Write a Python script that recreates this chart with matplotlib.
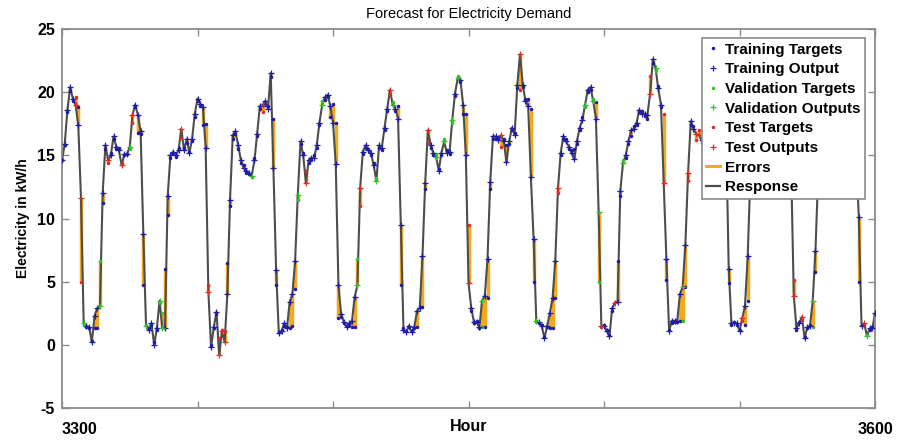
import numpy as np
import matplotlib
matplotlib.use('Agg')
import matplotlib.pyplot as plt
from matplotlib.lines import Line2D

plt.rcParams['font.family'] = ['Liberation Sans', 'DejaVu Sans']
plt.rcParams['axes.unicode_minus'] = False

# hourly samples 3300..3600
hours = np.arange(3300, 3601)

# network outputs (response), one row per day of 24 hours
outputs = [
    14.6, 15.9, 18.6, 20.4, 19.5, 19.0, 17.4, 11.6, 1.7, 1.5, 1.4, 0.2, 2.3, 2.9, 3.1, 12.0, 15.8, 14.6, 15.0, 16.5, 15.7, 15.4, 14.2, 15.1,
    15.1, 15.7, 18.2, 19.0, 18.2, 16.9, 8.8, 1.5, 1.2, 1.7, 0.0, 1.3, 3.5, 1.3, 1.3, 11.8, 15.0, 15.3, 15.0, 15.4, 17.1, 15.4, 16.3, 15.2,
    16.3, 18.3, 19.5, 19.1, 18.8, 15.6, 4.2, -0.2, 1.4, 2.6, -0.8, 1.1, 0.2, 4.0, 11.5, 16.6, 16.9, 15.8, 14.6, 14.0, 13.8, 13.6, 13.4, 14.6,
    16.7, 18.9, 19.0, 19.3, 18.7, 21.5, 14.0, 5.9, 0.9, 1.1, 1.7, 1.3, 3.4, 4.0, 6.6, 11.9, 16.1, 15.0, 12.8, 14.6, 14.8, 14.8, 15.8, 17.6,
    19.0, 19.6, 19.8, 18.9, 17.6, 14.3, 4.7, 2.4, 1.8, 1.4, 1.7, 1.9, 3.8, 4.7, 12.4, 15.3, 15.8, 15.4, 15.2, 14.2, 13.0, 15.8, 15.6, 17.2,
    18.7, 20.2, 19.0, 18.7, 17.9, 9.5, 1.2, 1.0, 1.5, 1.0, 1.4, 2.7, 2.9, 7.0, 12.8, 17.0, 15.8, 15.2, 14.9, 13.8, 15.2, 16.1, 15.2, 15.3,
    17.8, 19.9, 21.1, 21.0, 19.0, 15.0, 4.9, 2.9, 1.8, 1.8, 1.4, 3.5, 3.9, 6.8, 12.9, 16.5, 16.5, 16.2, 16.6, 16.1, 14.5, 16.1, 17.2, 16.6,
    20.6, 23.0, 20.6, 19.3, 18.9, 13.3, 8.4, 1.9, 1.8, 1.5, 0.5, 1.5, 2.5, 3.7, 6.6, 12.4, 15.2, 16.5, 16.1, 15.7, 15.2, 14.7, 16.1, 17.2,
    17.8, 19.0, 20.2, 20.4, 19.3, 17.9, 10.5, 1.5, 1.5, 1.1, 0.7, 2.9, 3.3, 3.4, 12.2, 14.4, 15.0, 16.1, 17.0, 17.1, 17.6, 18.6, 18.3, 18.3,
    18.2, 19.9, 22.6, 21.9, 20.3, 19.0, 12.8, 6.8, 1.1, 1.9, 1.9, 1.9, 4.0, 4.6, 7.9, 13.6, 17.7, 17.1, 16.7, 16.6, 16.2, 15.6, 15.1, 15.8,
    16.9, 18.2, 19.3, 20.0, 19.1, 17.2, 6.0, 1.7, 1.7, 1.7, 1.1, 2.1, 3.1, 7.0, 13.5, 16.0, 15.4, 15.0, 15.7, 16.3, 15.5, 15.2, 16.1, 17.4,
    18.6, 19.5, 20.2, 19.0, 17.2, 14.5, 3.9, 1.3, 1.7, 2.2, 0.5, 1.4, 1.5, 3.5, 7.4, 13.5, 15.5, 16.2, 15.8, 15.3, 15.9, 16.4, 15.6, 16.8,
    18.0, 19.1, 19.8, 19.0, 17.5, 15.0, 10.1, 1.5, 1.7, 0.7, 1.3, 1.3, 2.5,
]

# measured targets
targets = [
    14.6, 15.8, 18.4, 20.1, 19.3, 19.6, 18.8, 5.0, 1.6, 1.4, 1.3, 0.3, 1.3, 1.3, 6.6, 11.2, 15.5, 14.4, 15.2, 16.3, 15.5, 15.6, 14.4, 15.0,
    15.1, 15.5, 17.6, 18.8, 16.8, 16.7, 4.7, 1.6, 1.3, 1.6, 0.2, 1.2, 3.3, 2.5, 6.0, 10.3, 14.8, 15.1, 14.9, 15.6, 16.4, 15.6, 16.0, 15.3,
    16.1, 18.0, 19.3, 18.9, 17.4, 17.5, 4.7, 0.0, 1.3, 2.4, 0.5, 1.2, 1.1, 6.5, 11.0, 16.3, 16.7, 15.5, 14.4, 14.2, 13.6, 13.5, 13.3, 14.8,
    16.5, 18.7, 18.4, 19.0, 18.9, 21.2, 17.9, 4.7, 1.0, 1.2, 1.5, 1.4, 1.3, 1.5, 4.4, 11.5, 15.9, 15.2, 13.8, 14.4, 14.6, 15.0, 15.6, 17.4,
    19.3, 19.4, 19.6, 18.0, 19.1, 17.6, 2.1, 2.2, 1.7, 1.5, 1.6, 1.4, 1.4, 6.8, 11.0, 15.1, 15.6, 15.5, 15.0, 14.4, 13.2, 15.6, 15.4, 17.0,
    18.5, 19.8, 19.2, 18.5, 18.9, 4.7, 1.3, 1.1, 1.4, 1.1, 1.3, 1.4, 3.0, 3.0, 12.3, 16.0, 15.6, 15.0, 15.1, 13.9, 15.0, 16.3, 15.4, 15.1,
    17.6, 19.7, 21.3, 20.8, 18.3, 18.3, 9.5, 2.7, 1.7, 1.9, 1.3, 1.4, 1.4, 3.7, 12.3, 16.3, 16.3, 16.4, 15.7, 16.3, 15.8, 15.9, 17.0, 16.8,
    20.3, 20.2, 20.4, 19.5, 19.5, 18.7, 5.0, 1.8, 1.7, 1.6, 0.6, 1.4, 1.3, 1.3, 3.7, 12.0, 15.0, 16.3, 16.3, 15.5, 15.4, 15.5, 15.9, 17.0,
    18.0, 18.8, 20.0, 20.2, 19.5, 19.2, 5.0, 1.4, 1.6, 1.2, 0.8, 2.7, 3.4, 6.6, 11.8, 14.6, 14.8, 15.9, 16.5, 17.3, 17.4, 18.4, 18.5, 18.1,
    17.9, 21.3, 22.3, 21.7, 20.5, 18.8, 18.3, 5.1, 1.2, 1.7, 1.8, 1.8, 1.9, 1.9, 4.6, 13.0, 17.4, 17.3, 16.2, 17.0, 16.0, 15.8, 15.3, 15.6,
    17.1, 18.0, 19.5, 19.8, 19.3, 17.0, 4.9, 1.6, 1.8, 1.6, 1.2, 1.9, 1.6, 3.5, 13.2, 15.8, 15.6, 15.2, 15.5, 16.5, 15.3, 15.4, 15.9, 17.6,
    18.4, 19.7, 20.0, 19.2, 17.0, 14.3, 5.1, 1.2, 1.8, 2.0, 0.6, 1.3, 1.6, 1.4, 5.8, 13.2, 15.3, 16.4, 15.6, 15.5, 15.7, 16.6, 15.4, 17.0,
    17.8, 19.3, 19.6, 19.2, 17.3, 15.2, 5.0, 1.6, 1.6, 0.8, 1.2, 1.4, 2.4,
]

# which samples went to validation / test (offsets from hour 3300), rest is training
val_idx = [8, 14, 25, 31, 36, 37, 70, 87, 96, 109, 116, 122, 138, 141, 144, 146, 155, 175,
           193, 196, 198, 207, 219, 229, 277, 297]
test_idx = [5, 7, 17, 22, 26, 44, 54, 58, 59, 60, 74, 90, 110, 121, 135, 150, 162, 169, 183,
            199, 204, 217, 222, 231, 234, 235, 251, 270, 273, 296]

outputs = np.array(outputs)
targets = np.array(targets)
group = np.zeros(len(hours), dtype=int)
group[val_idx] = 1
group[test_idx] = 2

cols = ['#1c1ca8', '#2fbf2f', '#dd2a2a']
orange = '#f5a81c'
gray_line = '#4d4d4d'
frame = '#8a8a8a'

fig, ax = plt.subplots(figsize=(9.04, 4.41), dpi=100)
fig.subplots_adjust(left=0.0686, right=0.968, top=0.934, bottom=0.075)

ax.vlines(hours, targets, outputs, color=orange, lw=2.5, zorder=1)
ax.plot(hours, outputs, color=gray_line, lw=1.5, zorder=2)
for g in range(3):
    m = group == g
    ax.plot(hours[m], targets[m], '.', color=cols[g], ms=3, zorder=3)
    ax.plot(hours[m], outputs[m], '+', color=cols[g], ms=4.5, mew=0.9, zorder=4)

ax.set_xlim(3300, 3600)
ax.set_ylim(-5, 25)
ax.set_yticks([-5, 0, 5, 10, 15, 20, 25])
ax.set_xticks([3300, 3350, 3400, 3450, 3500, 3550, 3600])
ax.set_xticklabels(['3300', '', '', '', '', '', '3600'])
xl = ax.get_xticklabels()
xl[0].set_ha('left')
ax.tick_params(direction='in', length=5, width=1, color=frame, top=True, right=True,
               labelsize=11.5)
ax.tick_params(axis='x', pad=10)
ax.tick_params(axis='y', pad=5)
for lab in ax.get_xticklabels() + ax.get_yticklabels():
    lab.set_fontweight('bold')
for s in ax.spines.values():
    s.set_color(frame)
    s.set_linewidth(1.3)

ax.set_xlabel('Hour', fontsize=11.5, fontweight='bold', labelpad=-13)
ax.set_ylabel('Electricity in kW/h', fontsize=10, fontweight='bold', labelpad=5)
ax.set_title('Forecast for Electricity Demand', fontsize=10.5, pad=8)

handles = [
    Line2D([], [], ls='', marker='.', ms=3, color=cols[0]),
    Line2D([], [], ls='', marker='+', ms=4.5, mew=0.9, color=cols[0]),
    Line2D([], [], ls='', marker='.', ms=3, color=cols[1]),
    Line2D([], [], ls='', marker='+', ms=4.5, mew=0.9, color=cols[1]),
    Line2D([], [], ls='', marker='.', ms=3, color=cols[2]),
    Line2D([], [], ls='', marker='+', ms=4.5, mew=0.9, color=cols[2]),
    Line2D([], [], color=orange, lw=2.2),
    Line2D([], [], color=gray_line, lw=1.6),
]
labels = ['Training Targets', 'Training Output', 'Validation Targets', 'Validation Outputs',
          'Test Targets', 'Test Outputs', 'Errors', 'Response']
leg = ax.legend(handles, labels, loc='upper right', bbox_to_anchor=(0.988, 0.976),
                borderaxespad=0, fancybox=False, framealpha=1, edgecolor=frame,
                handlelength=0.9, handletextpad=0.35, labelspacing=0.37, borderpad=0.3,
                prop={'weight': 'bold', 'size': 11})
leg.get_frame().set_linewidth(1.2)
leg.set_zorder(10)

plt.savefig('out.png', dpi=100)
